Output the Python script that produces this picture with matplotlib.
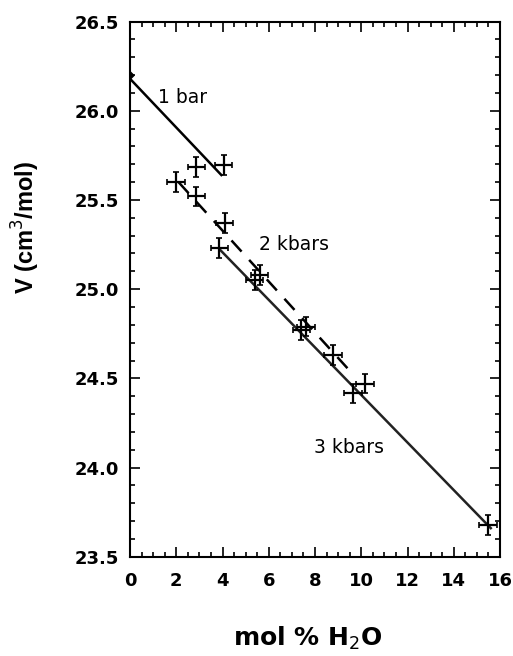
import matplotlib
matplotlib.use("Agg")
import matplotlib.pyplot as plt
from matplotlib.ticker import MultipleLocator, FormatStrFormatter

plt.rcParams['font.family'] = ['DejaVu Sans']

# 1 bar data
x_1bar = [0.0, 2.87, 4.05]
y_1bar = [26.20, 25.686, 25.695]
# 2 kbar data
x_2kb = [2.0, 2.87, 4.09, 5.6, 7.6, 8.78, 10.15]
y_2kb = [25.60, 25.52, 25.37, 25.08, 24.79, 24.63, 24.47]
# 3 kbar data
x_3kb = [3.87, 5.39, 7.41, 9.65, 15.49]
y_3kb = [25.23, 25.05, 24.77, 24.415, 23.676]

xerr = 0.38
yerr = 0.055

# fitted lines (endpoints)
fit_1bar_x = [0.0, 3.95]
fit_1bar_y = [26.18, 25.64]
fit_2kb_x = [2.1, 9.45]
fit_2kb_y = [25.60, 24.55]
fit_3kb_x = [3.9, 15.6]
fit_3kb_y = [25.22, 23.66]

fig = plt.figure(figsize=(5.13, 6.56), dpi=100)
ax = fig.add_axes([0.2534, 0.1514, 0.7213, 0.8156])

ax.plot(fit_1bar_x, fit_1bar_y, color='black', lw=1.8)
ln, = ax.plot(fit_2kb_x, fit_2kb_y, color='black', lw=1.8)
ln.set_dashes((6, 4.5))
ax.plot(fit_3kb_x, fit_3kb_y, color='#222222', lw=1.8)

ax.plot([x_1bar[0]], [y_1bar[0]], marker='D', ms=3.5, color='black')
for xs, ys in [(x_1bar[1:], y_1bar[1:]), (x_2kb, y_2kb), (x_3kb, y_3kb)]:
    ax.errorbar(xs, ys, xerr=xerr, yerr=yerr, fmt='none', ecolor='black',
                elinewidth=1.6, capsize=2, capthick=1.2)

ax.text(2.27, 26.077, '1 bar', fontsize=13.5, ha='center', va='center')
ax.text(7.08, 25.25, '2 kbars', fontsize=13.5, ha='center', va='center')
ax.text(9.46, 24.11, '3 kbars', fontsize=13.5, ha='center', va='center')

ax.set_xlim(0, 16)
ax.set_ylim(23.5, 26.5)
ax.xaxis.set_major_locator(MultipleLocator(2))
ax.xaxis.set_minor_locator(MultipleLocator(0.5))
ax.yaxis.set_major_locator(MultipleLocator(0.5))
ax.yaxis.set_minor_locator(MultipleLocator(0.1))
ax.yaxis.set_major_formatter(FormatStrFormatter('%.1f'))
ax.tick_params(which='both', direction='in', top=True, right=True, width=1.2)
ax.tick_params(which='major', length=7)
ax.tick_params(which='minor', length=3.5)
ax.tick_params(axis='x', which='major', pad=11)
ax.tick_params(axis='y', which='major', pad=8)
for lab in ax.get_xticklabels() + ax.get_yticklabels():
    lab.set_fontsize(13)
    lab.set_fontweight('bold')
for s in ax.spines.values():
    s.set_linewidth(1.5)

ax.set_xlabel('mol % H$_2$O', fontsize=18, fontweight='bold')
ax.xaxis.set_label_coords(0.481, -0.128)
ax.set_ylabel('V (cm$^3$/mol)', fontsize=17, fontweight='bold',
              family=['Liberation Sans', 'DejaVu Sans'])
ax.yaxis.set_label_coords(-0.238, 0.615)

fig.savefig('out.png', dpi=100)
